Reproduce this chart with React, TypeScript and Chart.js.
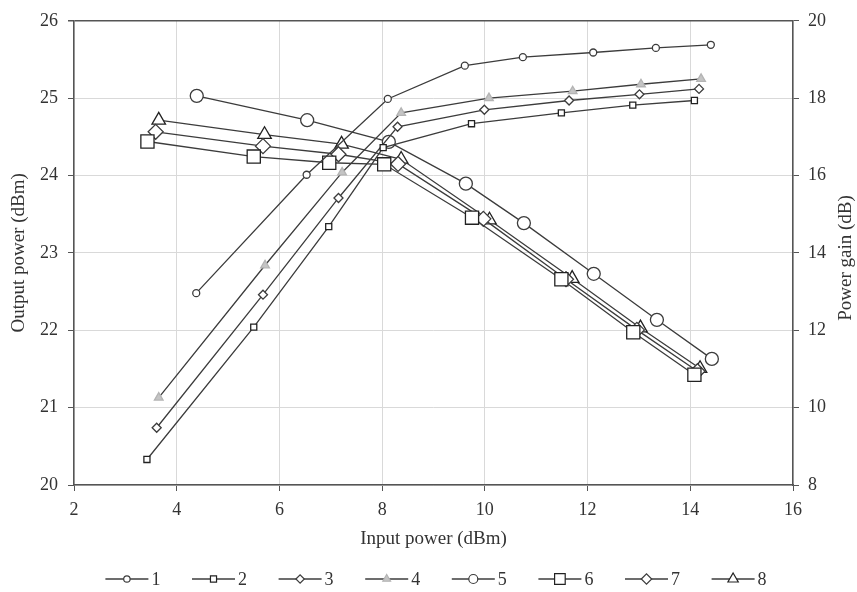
import React, { useEffect, useRef } from 'react';
import { Chart, registerables } from 'chart.js';

Chart.register(...registerables);

// ---- data ----
const seriesLabels = ['1', '2', '3', '4', '5', '6', '7', '8'];

// Output power (left axis, dBm)
const x1 = [4.38, 6.53, 8.11, 9.61, 10.74, 12.11, 13.33, 14.40];
const y1 = [22.48, 24.01, 24.99, 25.42, 25.53, 25.59, 25.65, 25.69];
const x2 = [3.42, 5.50, 6.96, 8.02, 9.74, 11.49, 12.88, 14.08];
const y2 = [20.33, 22.04, 23.34, 24.36, 24.67, 24.81, 24.91, 24.97];
const x3 = [3.61, 5.68, 7.15, 8.30, 9.99, 11.64, 13.01, 14.17];
const y3 = [20.74, 22.46, 23.71, 24.63, 24.85, 24.97, 25.05, 25.12];
const x4 = [3.65, 5.72, 7.22, 8.37, 10.08, 11.71, 13.04, 14.21];
const y4 = [21.13, 22.84, 24.04, 24.81, 25.00, 25.09, 25.18, 25.25];

// Power gain (right axis, dB)
const x5 = [4.39, 6.54, 8.13, 9.63, 10.76, 12.12, 13.35, 14.42];
const y5 = [18.06, 17.43, 16.87, 15.79, 14.77, 13.46, 12.27, 11.26];
const x6 = [3.43, 5.50, 6.97, 8.04, 9.75, 11.49, 12.89, 14.08];
const y6 = [16.88, 16.49, 16.33, 16.29, 14.91, 13.32, 11.95, 10.85];
const x7 = [3.59, 5.68, 7.15, 8.31, 9.97, 11.58, 12.96, 14.14];
const y7 = [17.13, 16.76, 16.55, 16.30, 14.88, 13.32, 12.01, 10.94];
const x8 = [3.65, 5.71, 7.21, 8.37, 10.09, 11.70, 13.03, 14.19];
const y8 = [17.43, 17.06, 16.81, 16.42, 14.85, 13.34, 12.06, 11.01];

const xMin = 2, xMax = 16, xStep = 2;
const yMin = 20, yMax = 26, yStep = 1;
const y2Min = 8, y2Max = 20, y2Step = 2;

const xTitle = 'Input power (dBm)';
const yTitle = 'Output power (dBm)';
const y2Title = 'Power gain (dB)';

// ---- styles ----
const FONT = '"Liberation Serif", "Times New Roman", serif';
const INK = '#333333';
const LINE = '#3c3c3c';
const AXIS = '#555555';
const GRID = '#d9d9d9';

type Sty = { shape: string; r: number; lr: number; fill: string; stroke: string };
const styles: Sty[] = [
  { shape: 'circle', r: 3.5, lr: 3.2, fill: '#ffffff', stroke: LINE },
  { shape: 'rect', r: 4.3, lr: 4.3, fill: '#ffffff', stroke: '#222' },
  { shape: 'rectRot', r: 4.5, lr: 4.2, fill: '#ffffff', stroke: LINE },
  { shape: 'triangle', r: 5, lr: 4.5, fill: '#c4c4c4', stroke: '#b4b4b4' },
  { shape: 'circle', r: 6.5, lr: 4.5, fill: '#ffffff', stroke: LINE },
  { shape: 'rect', r: 9.3, lr: 7.5, fill: '#ffffff', stroke: '#222' },
  { shape: 'rectRot', r: 7.5, lr: 5.2, fill: '#ffffff', stroke: LINE },
  { shape: 'triangle', r: 7.8, lr: 6, fill: '#ffffff', stroke: '#222' },
];

const xs = [x1, x2, x3, x4, x5, x6, x7, x8];
const ys = [y1, y2, y3, y4, y5, y6, y7, y8];

function drawShape(ctx: CanvasRenderingContext2D, shape: string, x: number, y: number, r: number) {
  ctx.beginPath();
  if (shape === 'circle') {
    ctx.arc(x, y, r, 0, Math.PI * 2);
  } else if (shape === 'rect') {
    const h = r * Math.SQRT1_2;
    ctx.rect(x - h, y - h, 2 * h, 2 * h);
  } else if (shape === 'rectRot') {
    ctx.moveTo(x - r, y);
    ctx.lineTo(x, y - r);
    ctx.lineTo(x + r, y);
    ctx.lineTo(x, y + r);
    ctx.closePath();
  } else {
    let rad = 0;
    ctx.moveTo(x + Math.sin(rad) * r, y - Math.cos(rad) * r);
    rad += (2 * Math.PI) / 3;
    ctx.lineTo(x + Math.sin(rad) * r, y - Math.cos(rad) * r);
    rad += (2 * Math.PI) / 3;
    ctx.lineTo(x + Math.sin(rad) * r, y - Math.cos(rad) * r);
    ctx.closePath();
  }
  ctx.fill();
  ctx.stroke();
}

const legendPlugin = {
  id: 'lineMarkerLegend',
  afterDraw(chart: any) {
    const ctx: CanvasRenderingContext2D = chart.ctx;
    const n = seriesLabels.length;
    const step = 86.6;
    const lineLen = 43;
    ctx.save();
    ctx.font = `18px ${FONT}`;
    const lastW = lineLen + 3 + ctx.measureText(seriesLabels[n - 1]).width;
    const total = step * (n - 1) + lastW;
    const cx = (chart.chartArea.left + chart.chartArea.right) / 2 + 2.5;
    const y = 579;
    let x0 = cx - total / 2;
    for (let i = 0; i < n; i++) {
      const s = styles[i];
      ctx.strokeStyle = LINE;
      ctx.lineWidth = 1.3;
      ctx.beginPath();
      ctx.moveTo(x0, y);
      ctx.lineTo(x0 + lineLen, y);
      ctx.stroke();
      ctx.fillStyle = s.fill;
      ctx.strokeStyle = s.stroke;
      ctx.lineWidth = 1.2;
      drawShape(ctx, s.shape, x0 + lineLen / 2, y, s.lr);
      ctx.fillStyle = INK;
      ctx.textAlign = 'left';
      ctx.textBaseline = 'middle';
      ctx.fillText(seriesLabels[i], x0 + lineLen + 3, y + 1);
      x0 += step;
    }
    ctx.restore();
  },
};

const rightTitlePlugin = {
  id: 'rightTitle',
  afterDraw(chart: any) {
    const ctx: CanvasRenderingContext2D = chart.ctx;
    ctx.save();
    ctx.translate(846, 258);
    ctx.rotate(-Math.PI / 2);
    ctx.font = `19px ${FONT}`;
    ctx.fillStyle = INK;
    ctx.textAlign = 'center';
    ctx.textBaseline = 'middle';
    ctx.fillText(y2Title, 0, 0);
    ctx.restore();
  },
};

export default function App() {
  const ref = useRef<HTMLCanvasElement | null>(null);

  useEffect(() => {
    document.body.style.margin = '0';
    const canvas = ref.current;
    if (!canvas) return;

    const datasets = seriesLabels.map((label, i) => {
      const s = styles[i];
      return {
        label,
        data: xs[i].map((x, k) => ({ x, y: ys[i][k] })),
        yAxisID: i < 4 ? 'y' : 'y2',
        borderColor: LINE,
        borderWidth: 1.3,
        pointStyle: s.shape,
        pointRadius: s.r,
        pointHoverRadius: s.r,
        pointBackgroundColor: s.fill,
        pointBorderColor: s.stroke,
        pointBorderWidth: 1.3,
        fill: false,
        tension: 0,
      };
    });

    const tickFont = { family: FONT, size: 18 };
    const titleFont = { family: FONT, size: 19 };

    const chart = new Chart(canvas, {
      type: 'line',
      data: { datasets } as any,
      options: {
        responsive: false,
        animation: false,
        devicePixelRatio: 1,
        layout: { padding: { top: 15, left: 0, right: 0, bottom: 0 } },
        plugins: {
          legend: { display: false },
          tooltip: { enabled: false },
        },
        scales: {
          x: {
            type: 'linear',
            position: 'bottom',
            min: xMin,
            max: xMax,
            ticks: { stepSize: xStep, font: tickFont, color: INK, padding: 8, maxRotation: 0 },
            grid: { color: GRID, lineWidth: 1, tickColor: AXIS, tickLength: 6 },
            border: { color: AXIS, width: 1.5 },
            title: {
              display: true,
              text: xTitle,
              font: titleFont,
              color: INK,
              padding: { top: 0, bottom: 42 },
            },
            afterFit: (s: any) => {
              s.height = 107;
            },
          },
          y: {
            type: 'linear',
            position: 'left',
            min: yMin,
            max: yMax,
            ticks: { stepSize: yStep, font: tickFont, color: INK, padding: 10 },
            grid: {
              color: (c: any) => (c.tick && c.tick.value === yMax ? AXIS : GRID),
              lineWidth: (c: any) => (c.tick && c.tick.value === yMax ? 1.5 : 1),
              tickColor: AXIS,
              tickLength: 6,
            },
            border: { color: AXIS, width: 1.5 },
            title: {
              display: true,
              text: yTitle,
              font: titleFont,
              color: INK,
              padding: { top: 8, bottom: 0 },
            },
            afterFit: (s: any) => {
              s.width = 74;
            },
          },
          y2: {
            type: 'linear',
            position: 'right',
            min: y2Min,
            max: y2Max,
            ticks: { stepSize: y2Step, font: tickFont, color: INK, padding: 9 },
            grid: { drawOnChartArea: false, tickColor: AXIS, tickLength: 6 },
            border: { color: AXIS, width: 1.5 },
            afterFit: (s: any) => {
              s.width = 64;
            },
          },
        },
      } as any,
      plugins: [legendPlugin, rightTitlePlugin],
    });

    return () => chart.destroy();
  }, []);

  return (
    <div style={{ position: 'fixed', left: 0, top: 0, width: 857, height: 592, background: '#fff' }}>
      <canvas ref={ref} width={857} height={592} style={{ display: 'block' }} />
    </div>
  );
}
